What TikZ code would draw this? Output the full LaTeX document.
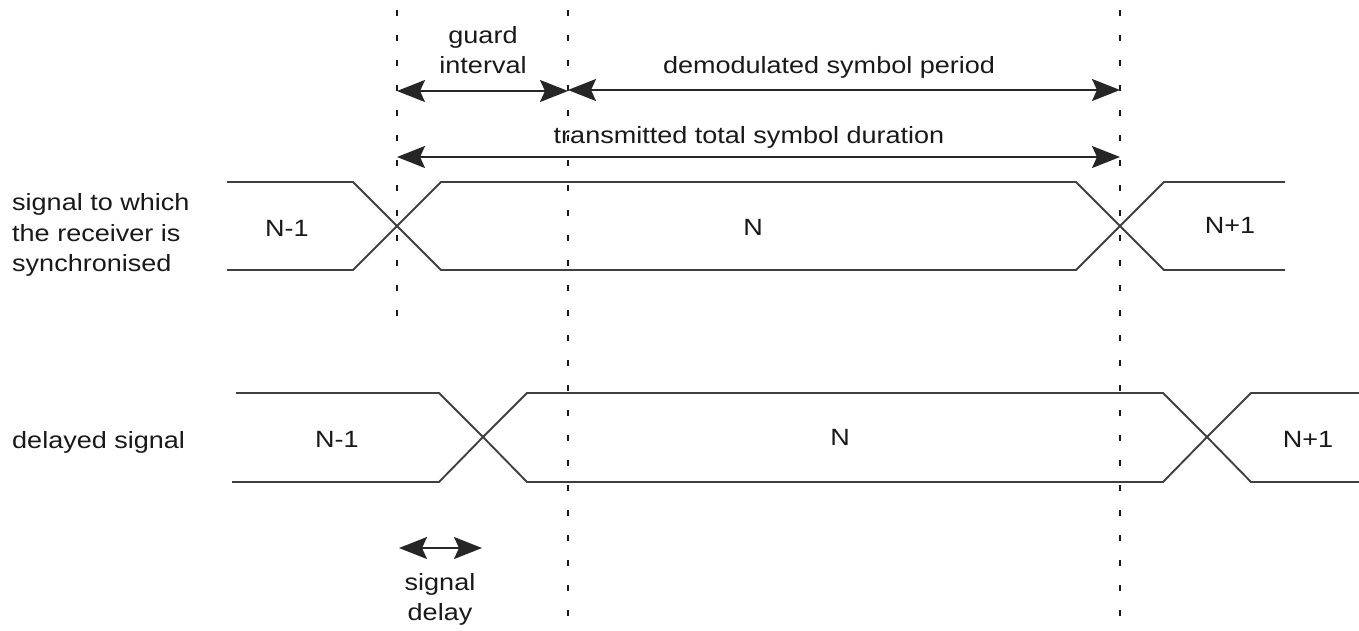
\documentclass[tikz,border=0pt]{standalone}
\usepackage{fontspec}
\setmainfont{Liberation Sans}[FakeStretch=1.15]
\usetikzlibrary{arrows.meta}
\begin{document}
\begin{tikzpicture}[x=1pt,y=-1pt,
  sig/.style={line width=1.9pt, draw=black!75, line join=miter},
  guide/.style={line width=2.2pt, draw=black!90, dash pattern=on 6pt off 19pt},
  dimarrow/.style={line width=1.9pt, draw=black!85,
    {Stealth[length=28pt,width=22pt,inset=5pt]}-{Stealth[length=28pt,width=22pt,inset=5pt]}},
  lbl/.style={font=\fontsize{23.5}{30}\selectfont, inner sep=0pt, text=black!90},
]
\useasboundingbox (0,0) rectangle (1359,630);

% guide lines
\coordinate (g1t) at (397,10);  \coordinate (g1b) at (397,330);
\coordinate (g2t) at (568,10);  \coordinate (g2b) at (568,630);
\coordinate (g3t) at (1120,10); \coordinate (g3b) at (1120,630);
\draw[guide] (g1t) -- (g1b);
\draw[guide] (g2t) -- (g2b);
\draw[guide] (g3t) -- (g3b);

% dimension arrows
\coordinate (ga) at (397,91);  \coordinate (gb) at (568,91);
\coordinate (da) at (568,90);  \coordinate (db) at (1120,90);
\coordinate (ta) at (397,157); \coordinate (tb) at (1120,157);
\coordinate (sa) at (399,548); \coordinate (sb) at (482,548);
\draw[dimarrow] (ga) -- (gb);
\draw[dimarrow] (da) -- (db);
\draw[dimarrow] (ta) -- (tb);
\draw[dimarrow] (sa) -- (sb);

% dimension labels
\node[lbl, anchor=base] (guard) at (483,43) {guard};
\node[lbl, anchor=base] (interval) at (483,73) {interval};
\node[lbl, anchor=base] (demod) at (829,73) {demodulated symbol period};
\node[lbl, anchor=base] (trans) at (749,143) {transmitted total symbol duration};
\node[lbl, anchor=base] (sig1) at (440,590) {signal};
\node[lbl, anchor=base] (sig2) at (440,620) {delay};

% row labels
\node[lbl, anchor=base west] (r1a) at (12,210) {signal to which};
\node[lbl, anchor=base west] (r1b) at (12,241) {the receiver is};
\node[lbl, anchor=base west] (r1c) at (12,271) {synchronised};
\node[lbl, anchor=base west] (r2) at (12,448) {delayed signal};

% synchronised signal
\coordinate (x1) at (397,226);
\coordinate (x2) at (1120,226);
\draw[sig] (227,182) -- (353,182) -- (x1) -- (441,270) -- (1076,270) -- (x2) -- (1164,182) -- (1285,182);
\draw[sig] (227,270) -- (353,270) -- (x1) -- (441,182) -- (1076,182) -- (x2) -- (1164,270) -- (1285,270);
\node[lbl, anchor=base] (a1) at (287,236) {N-1};
\node[lbl, anchor=base] (a2) at (753,235) {N};
\node[lbl, anchor=base] (a3) at (1230,233) {N+1};

% delayed signal
\coordinate (y1) at (483,437);
\coordinate (y2) at (1207,437);
\draw[sig] (236,393) -- (439,393) -- (y1) -- (527,482) -- (1163,482) -- (y2) -- (1251,393) -- (1359,393);
\draw[sig] (232,482) -- (439,482) -- (y1) -- (527,393) -- (1163,393) -- (y2) -- (1251,482) -- (1359,482);
\node[lbl, anchor=base] (b1) at (337,447) {N-1};
\node[lbl, anchor=base] (b2) at (840,445) {N};
\node[lbl, anchor=base] (b3) at (1308,447) {N+1};
\end{tikzpicture}
\end{document}
